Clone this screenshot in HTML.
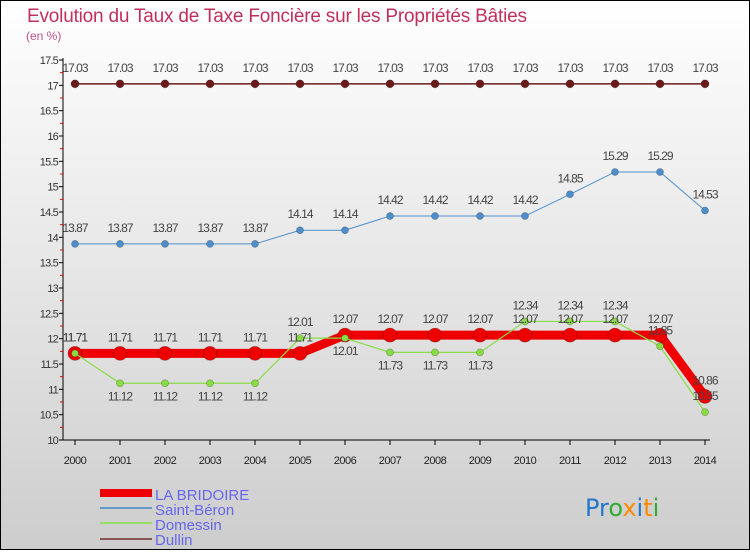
<!DOCTYPE html>
<html><head><meta charset="utf-8"><style>
html,body{margin:0;padding:0}
body{width:750px;height:550px;overflow:hidden;font-family:"Liberation Sans",sans-serif}
</style></head><body>
<svg id="c" width="750" height="550" xmlns="http://www.w3.org/2000/svg">
<defs><linearGradient id="bg" x1="0" y1="0" x2="0" y2="1"><stop offset="0" stop-color="#ffffff"/><stop offset="1" stop-color="#cdcdcd"/></linearGradient></defs>
<rect x="0.5" y="0.5" width="749" height="549" fill="url(#bg)" stroke="#000"/>
<text x="27" y="22" font-size="19" fill="#c0305a" textLength="500">Evolution du Taux de Taxe Foncière sur les Propriétés Bâties</text>
<text x="26" y="40" font-size="12" fill="#c0508a">(en %)</text>
<g id="axes"></g><g id="series"></g><g id="labels"></g>
<g font-size="15" fill="#6666ee">
<rect x="100" y="489" width="52" height="8" fill="#ee0000"/>
<text x="155" y="500">LA BRIDOIRE</text>
<rect x="100" y="507" width="52" height="2" fill="#6699cc"/>
<text x="155" y="515">Saint-Béron</text>
<rect x="100" y="522" width="52" height="2" fill="#99dd66"/>
<text x="155" y="530">Domessin</text>
<rect x="100" y="538" width="52" height="2" fill="#885555"/>
<text x="155" y="545">Dullin</text>
</g>
<g font-size="24" font-family="'DejaVu Sans',sans-serif">
<text x="585" y="516"><tspan fill="#2277cc">Pr</tspan><tspan fill="#33aa33">o</tspan><tspan fill="#ff8800">x</tspan><tspan fill="#2277cc">i</tspan><tspan fill="#ff8800">t</tspan><tspan fill="#33aa33">i</tspan></text>
</g>
</svg>
<script>
const years=[2000,2001,2002,2003,2004,2005,2006,2007,2008,2009,2010,2011,2012,2013,2014];
const laBridoire=[11.71,11.71,11.71,11.71,11.71,11.71,12.07,12.07,12.07,12.07,12.07,12.07,12.07,12.07,10.86];
const saintBeron=[13.87,13.87,13.87,13.87,13.87,14.14,14.14,14.42,14.42,14.42,14.42,14.85,15.29,15.29,14.53];
const domessin=[11.71,11.12,11.12,11.12,11.12,12.01,12.01,11.73,11.73,11.73,12.34,12.34,12.34,11.85,10.55];
const dullin=[17.03,17.03,17.03,17.03,17.03,17.03,17.03,17.03,17.03,17.03,17.03,17.03,17.03,17.03,17.03];
const yTicks=[10,10.5,11,11.5,12,12.5,13,13.5,14,14.5,15,15.5,16,16.5,17,17.5];
const NS="http://www.w3.org/2000/svg";
const x=i=>75+(705-75)*(years[i]-years[0])/(years[years.length-1]-years[0]);
const y=v=>440-(v-10)*(380/7.5);
function mk(t,a,p){const e=document.createElementNS(NS,t);for(const k in a)e.setAttribute(k,a[k]);document.getElementById(p).appendChild(e);return e;}
let ax=mk('line',{x1:63,y1:58,x2:63,y2:440,stroke:'#000'},'axes');


let bx=mk('line',{x1:63,y1:440,x2:710,y2:440,stroke:'#000'},'axes');


yTicks.forEach((v,i)=>{
 mk('line',{x1:59,y1:y(v),x2:63,y2:y(v),stroke:'#000'},'axes');
 if(i<yTicks.length-1)mk('line',{x1:60,y1:y(v+0.25),x2:63,y2:y(v+0.25),stroke:'#e00'},'axes');
 const t=mk('text',{x:58,y:y(v)+4,'font-size':11,'text-anchor':'end',fill:'#333','letter-spacing':'-0.8'},'axes');
 t.textContent=String(v);
 
 
});
years.forEach((yr,i)=>{
 mk('line',{x1:x(i),y1:440,x2:x(i),y2:445,stroke:'#000'},'axes');
 const t=mk('text',{x:x(i),y:464,'font-size':11,'text-anchor':'middle',fill:'#222','letter-spacing':'-0.5'},'axes');
 t.textContent=yr;
 
 
});
function series(name,vals,color,w,r,below){
 const pts=vals.map((v,i)=>x(i)+','+y(v)).join(' ');
 const pl=mk('polyline',{points:pts,fill:'none',stroke:color,'stroke-width':w,'stroke-linejoin':'round'},'series');
 
 
 vals.forEach((v,i)=>{
  const c=mk('circle',{cx:x(i),cy:y(v),r:r,fill:color,stroke:'rgba(0,0,0,0.25)','stroke-width':0.8},'series');
  
  
  const b=below&&below(i);
  const t=mk('text',{x:x(i),y:y(v)+(b?17:-12),'font-size':12,'text-anchor':'middle',fill:'#444','letter-spacing':'-1'},'labels');
  t.textContent=String(v);
  
  
 });
}
series('dullin',dullin,'#6b1a1a',1.5,4);
series('saint-beron',saintBeron,'#4d8fcc',1,3.5);
series('la-bridoire',laBridoire,'#ee0000',9,7);
series('domessin',domessin,'#88dd44',1.2,3.5,i=>domessin[i]<laBridoire[i]&&i<years.length-2);
</script>
</body></html>
